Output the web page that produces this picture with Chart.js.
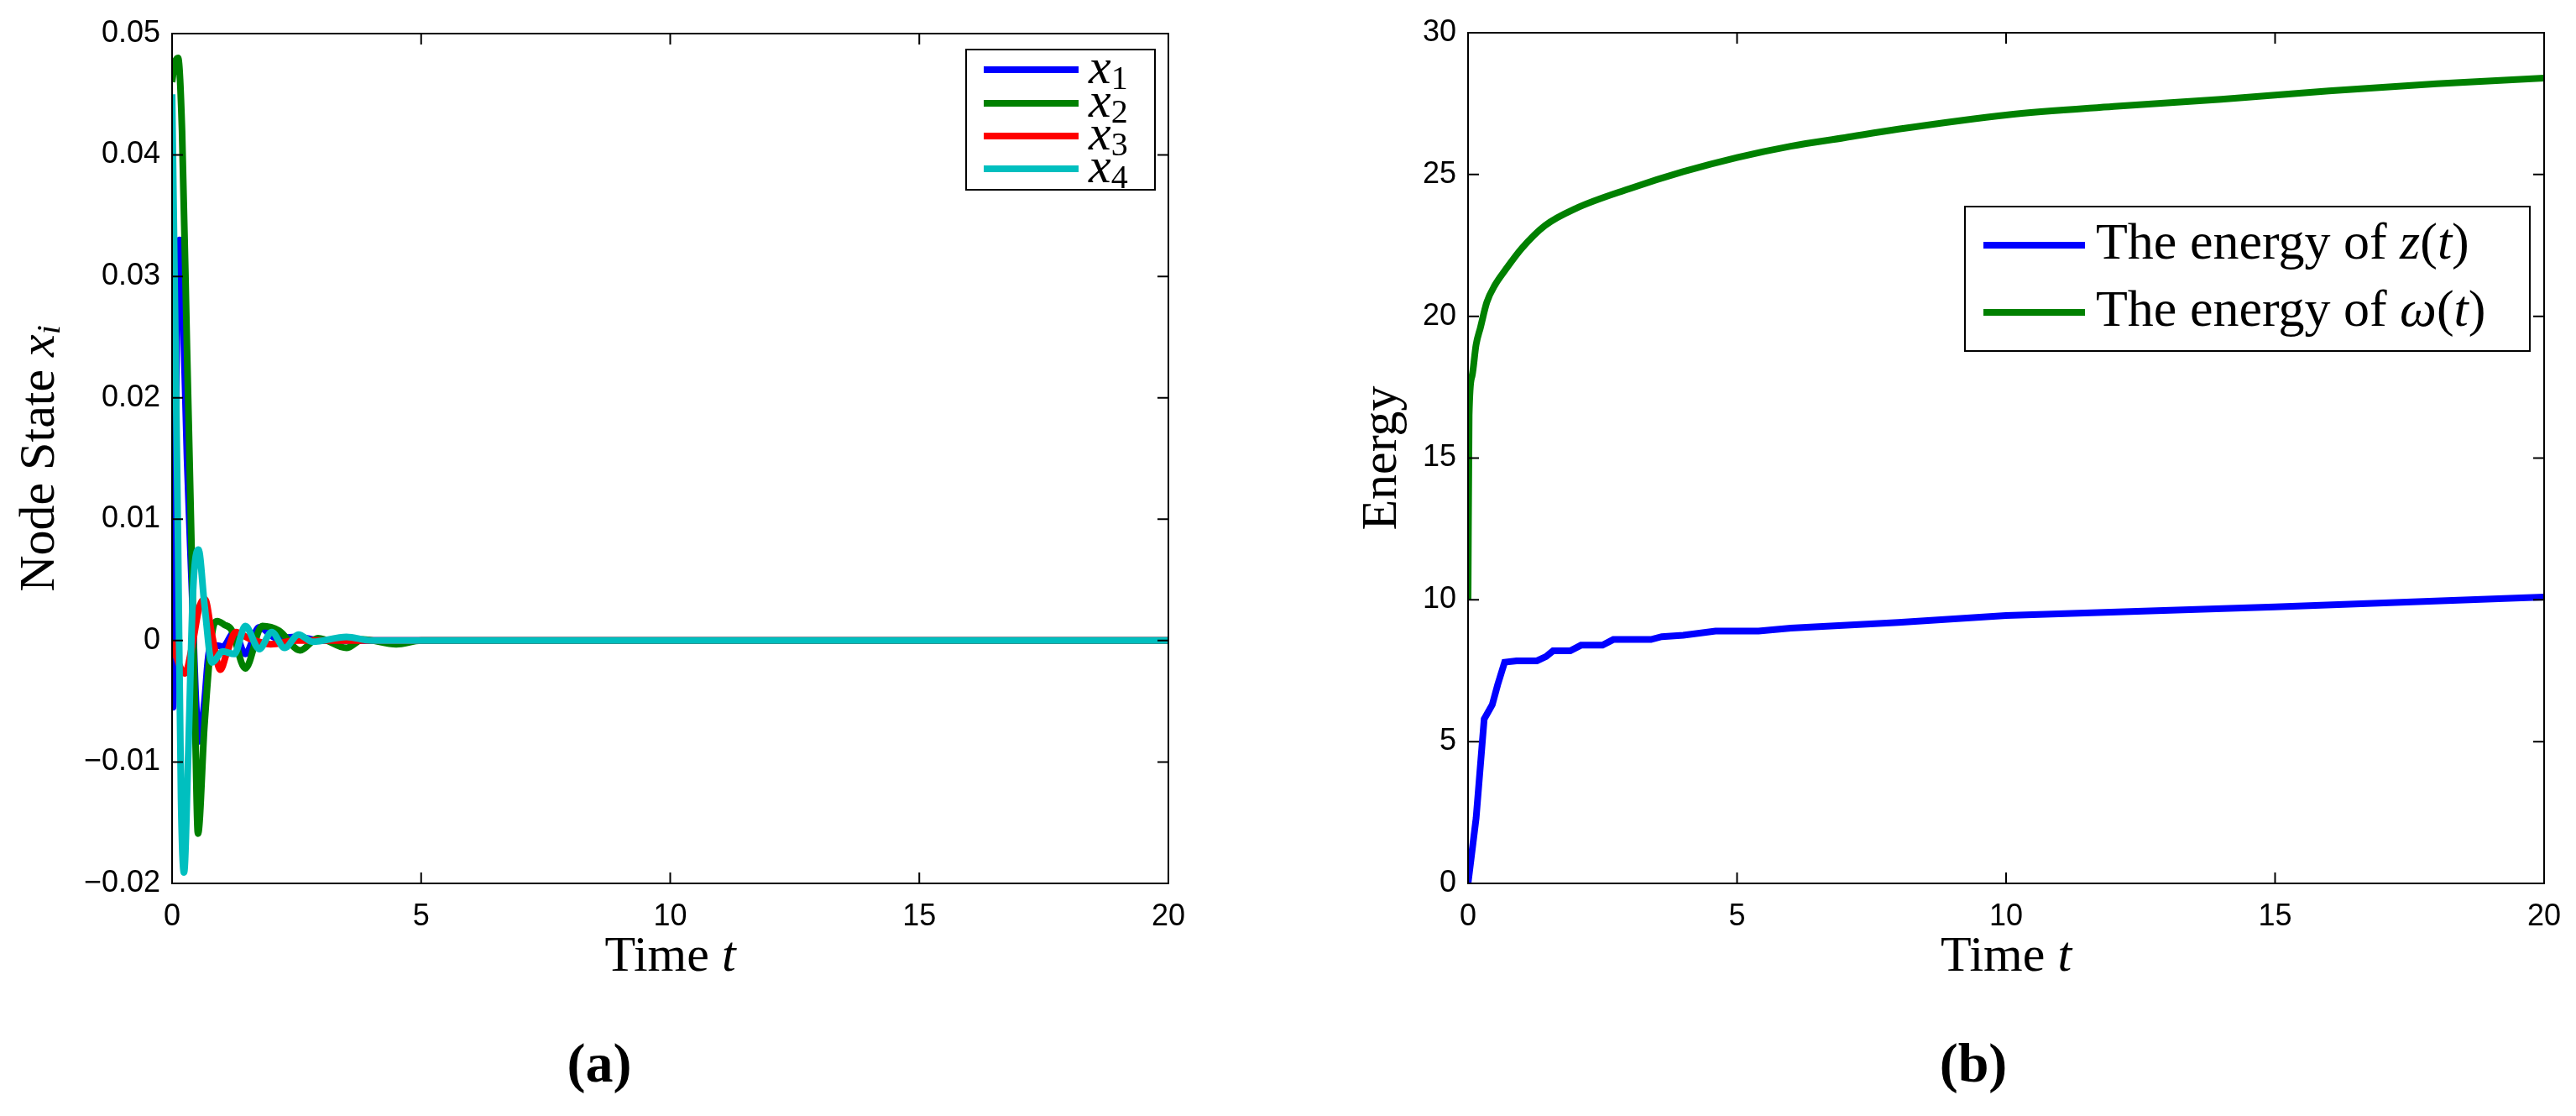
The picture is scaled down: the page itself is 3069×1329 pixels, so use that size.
<!DOCTYPE html>
<html>
<head>
<meta charset="utf-8">
<title>Node state and energy</title>
<script src="https://cdn.jsdelivr.net/npm/chart.js@4/dist/chart.umd.min.js"></script>
<style>
  body { margin: 0; background: #fff; width: 3069px; height: 1329px; position: relative; overflow: hidden; }
  canvas { position: absolute; top: 0; }
  .cap { position: absolute; top: 1228px; font: bold 66px "Liberation Serif", serif; transform: translateX(-50%); }
</style>
</head>
<body>
<canvas id="left" width="1430" height="1200" style="left:0"></canvas>
<canvas id="right" width="1519" height="1200" style="left:1550px"></canvas>
<div class="cap" style="left:714px">(a)</div>
<div class="cap" style="left:2351px">(b)</div>

<script>
// ---- data (a): node states ----
var tX1 = [0, 0.02, 0.06, 0.1, 0.15, 0.22, 0.3, 0.4, 0.48, 0.55, 0.65, 0.75, 0.9, 1.02, 1.25, 1.47, 1.75, 2.1, 2.5, 3, 20];
var x1  = [0, -0.0055, 0.01, 0.028, 0.033, 0.027, 0.015, 0.004, -0.005, -0.0083, -0.005, -0.0007, -0.0004, -0.0005, 0.0007, -0.0011, 0.0011, 0.0002, 0.0003, 0, 0];
var tX2 = [0, 0.05, 0.12, 0.2, 0.3, 0.4, 0.46, 0.52, 0.65, 0.8, 0.91, 1.05, 1.19, 1.47, 1.81, 2.15, 2.57, 2.93, 3.5, 3.83, 4.5, 5, 20];
var x2  = [0.046, 0.0475, 0.048, 0.042, 0.024, 0.006, -0.006, -0.0159, -0.007, 0.0005, 0.0016, 0.0013, 0.0009, -0.0023, 0.0012, 0.0008, -0.0008, 0.0002, -0.0006, 0.0001, -0.0003, 0, 0];
var tX3 = [0, 0.1, 0.26, 0.4, 0.55, 0.66, 0.8, 0.97, 1.1, 1.28, 1.53, 1.98, 2.5, 20];
var x3  = [0, -0.0015, -0.0027, -0.0005, 0.0028, 0.0034, 0.0005, -0.0024, -0.001, 0.0007, 0.0002, -0.0003, 0, 0];
var tX4 = [0, 0.05, 0.12, 0.18, 0.24, 0.32, 0.42, 0.53, 0.65, 0.8, 1.02, 1.25, 1.47, 1.75, 2.0, 2.26, 2.54, 2.82, 3.5, 4, 20];
var x4  = [0.045, 0.03, 0.008, -0.013, -0.0191, -0.01, 0.004, 0.0075, 0.003, -0.0018, -0.0009, -0.0011, 0.0012, -0.0007, 0.0007, -0.0006, 0.0005, -0.0001, 0.0003, 0, 0];

// ---- data (b): energy ----
var tW = [0, 0.02, 0.075, 0.15, 0.23, 0.35, 0.5, 0.68, 1, 1.43, 2, 3, 4, 5, 6, 7, 8, 10, 12, 14, 16, 18, 20];
var eW = [10, 16.5, 17.9, 19, 19.6, 20.5, 21.1, 21.6, 22.4, 23.2, 23.8, 24.5, 25.1, 25.6, 26, 26.3, 26.6, 27.1, 27.4, 27.65, 27.95, 28.2, 28.4];
var tZ = [0, 0.15, 0.3, 0.45, 0.55, 0.68, 0.9, 1.28, 1.45, 1.58, 1.9, 2.1, 2.5, 2.7, 3.4, 3.6, 4.0, 4.6, 5.4, 6, 8, 10, 15, 20];
var eZ = [0, 2.3, 5.8, 6.3, 7.0, 7.8, 7.85, 7.85, 8.0, 8.2, 8.2, 8.4, 8.4, 8.6, 8.6, 8.7, 8.75, 8.9, 8.9, 9.0, 9.2, 9.45, 9.75, 10.1];

var xTicksStep = 5;
var SERIF = '"Liberation Serif", serif';
var SANS = '"Liberation Sans", Arial, sans-serif';

function pts(t, v) { return t.map(function (x, i) { return { x: x, y: v[i] }; }); }

function line(label, t, v, color, order, smooth) {
  return {
    label: label, data: pts(t, v), borderColor: color, backgroundColor: color,
    borderWidth: 8, pointRadius: 0, fill: false, order: order,
    tension: smooth ? 0.4 : 0, cubicInterpolationMode: smooth ? 'monotone' : 'default'
  };
}

function runs(ctx, parts, x, y, align) {
  var w = 0;
  parts.forEach(function (p) { ctx.font = p[1]; w += ctx.measureText(p[0]).width; });
  var cx = align === 'center' ? x - w / 2 : x;
  parts.forEach(function (p) {
    ctx.font = p[1];
    ctx.fillText(p[0], cx, y + (p[2] || 0));
    cx += ctx.measureText(p[0]).width;
  });
}

// frame, inside ticks, legend and titles
var decor = {
  id: 'decor',
  afterDraw: function (chart) {
    var ctx = chart.ctx, a = chart.chartArea, o = chart.options.plugins.decor;
    var xs = chart.scales.x, ys = chart.scales.y;
    ctx.save();
    ctx.strokeStyle = '#000'; ctx.lineWidth = 2;
    ctx.strokeRect(a.left, a.top, a.right - a.left, a.bottom - a.top);
    ctx.beginPath();
    xs.ticks.forEach(function (tk) {
      var px = xs.getPixelForValue(tk.value);
      ctx.moveTo(px, a.bottom); ctx.lineTo(px, a.bottom - 13);
      ctx.moveTo(px, a.top); ctx.lineTo(px, a.top + 13);
    });
    ys.ticks.forEach(function (tk) {
      var py = ys.getPixelForValue(tk.value);
      ctx.moveTo(a.left, py); ctx.lineTo(a.left + 13, py);
      ctx.moveTo(a.right, py); ctx.lineTo(a.right - 13, py);
    });
    ctx.stroke();

    // legend
    var L = o.legend;
    ctx.fillStyle = '#fff';
    ctx.fillRect(L.box[0], L.box[1], L.box[2] - L.box[0], L.box[3] - L.box[1]);
    ctx.strokeRect(L.box[0], L.box[1], L.box[2] - L.box[0], L.box[3] - L.box[1]);
    ctx.textBaseline = 'middle'; ctx.fillStyle = '#000';
    chart.data.datasets.forEach(function (ds, i) {
      var y = L.rows[i];
      ctx.strokeStyle = ds.borderColor; ctx.lineWidth = 8;
      ctx.beginPath(); ctx.moveTo(L.line[0], y); ctx.lineTo(L.line[1], y); ctx.stroke();
      runs(ctx, L.text[i], L.textX, y, 'left');
    });

    // axis titles
    ctx.textBaseline = 'middle';
    runs(ctx, o.xTitle, (a.left + a.right) / 2, 1140, 'center');
    ctx.translate(o.yTitleX, (a.top + a.bottom) / 2);
    ctx.rotate(-Math.PI / 2);
    runs(ctx, o.yTitle, 0, 0, 'center');
    ctx.restore();
  }
};

function scales(ymin, ymax, ystep, yfmt, yWidth) {
  var tickFont = { family: SANS, size: 36 };
  return {
    x: {
      type: 'linear', min: 0, max: 20,
      ticks: { stepSize: xTicksStep, color: '#000', font: tickFont, padding: 18, maxRotation: 0 },
      grid: { display: false, drawTicks: false }, border: { color: '#000', width: 2 },
      afterFit: function (s) { s.height = 148; }
    },
    y: {
      min: ymin, max: ymax,
      ticks: { stepSize: ystep, color: '#000', font: tickFont, padding: 14, callback: yfmt },
      grid: { display: false, drawTicks: false }, border: { color: '#000', width: 2 },
      afterFit: function (s) { s.width = yWidth; }
    }
  };
}

var it = 'italic 60px ' + SERIF, rm = '60px ' + SERIF, sub = '40px ' + SERIF;

new Chart(document.getElementById('left'), {
  type: 'line',
  data: {
    datasets: [
      line('x1', tX1, x1, '#0000ff', 4, true),
      line('x2', tX2, x2, '#008000', 3, true),
      line('x3', tX3, x3, '#ff0000', 2, true),
      line('x4', tX4, x4, '#00bfbf', 1, true)
    ]
  },
  options: {
    responsive: false, animation: false, devicePixelRatio: 1,
    layout: { padding: { top: 40, right: 34, left: 0, bottom: 0 } },
    scales: scales(-0.02, 0.05, 0.01, function (v) {
      var s = Math.abs(v) < 1e-9 ? '0' : Math.abs(v).toFixed(2);
      return v < -1e-9 ? '\u2212' + s : s;
    }, 205),
    plugins: {
      legend: { display: false }, tooltip: { enabled: false },
      decor: {
        legend: {
          box: [1151, 59, 1376, 226], line: [1172, 1285], rows: [83, 123, 162, 201], textX: 1297,
          text: [1, 2, 3, 4].map(function (n) { return [['x', it], [String(n), sub, 12]]; })
        },
        xTitle: [['Time ', rm], ['t', it]],
        yTitle: [['Node State ', rm], ['x', it], ['i', 'italic 40px ' + SERIF, 12]],
        yTitleX: 48
      }
    }
  },
  plugins: [decor]
});

new Chart(document.getElementById('right'), {
  type: 'line',
  data: {
    datasets: [
      line('The energy of z(t)', tZ, eZ, '#0000ff', 2, false),
      line('The energy of \u03c9(t)', tW, eW, '#008000', 1, true)
    ]
  },
  options: {
    responsive: false, animation: false, devicePixelRatio: 1,
    layout: { padding: { top: 39, right: 36, left: 0, bottom: 0 } },
    scales: scales(0, 30, 5, function (v) { return String(v); }, 199),
    plugins: {
      legend: { display: false }, tooltip: { enabled: false },
      decor: {
        legend: {
          box: [791, 246, 1464, 418], line: [813, 934], rows: [292, 372], textX: 947,
          text: [
            [['The energy of ', '62px ' + SERIF], ['z', 'italic 62px ' + SERIF], ['(', '62px ' + SERIF], ['t', 'italic 62px ' + SERIF], [')', '62px ' + SERIF]],
            [['The energy of ', '62px ' + SERIF], ['\u03c9', 'italic 62px ' + SERIF], ['(', '62px ' + SERIF], ['t', 'italic 62px ' + SERIF], [')', '62px ' + SERIF]]
          ]
        },
        xTitle: [['Time ', rm], ['t', it]],
        yTitle: [['Energy', rm]],
        yTitleX: 97
      }
    }
  },
  plugins: [decor]
});
</script>
</body>
</html>
